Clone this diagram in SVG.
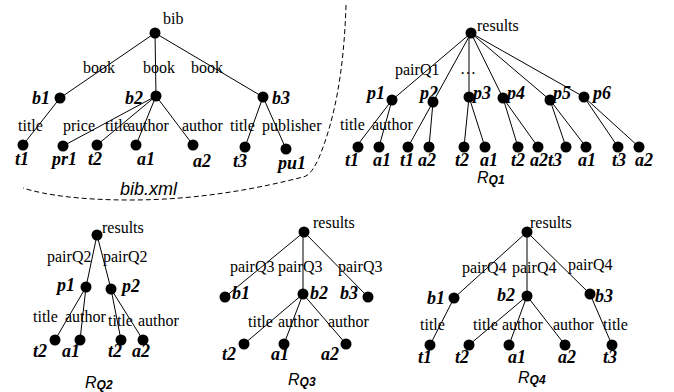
<svg xmlns="http://www.w3.org/2000/svg" width="674" height="392" viewBox="0 0 674 392">
<style>
.e{stroke:#000;stroke-width:1;fill:none}
.d{fill:#000}
.l{font-family:"Liberation Serif","Times New Roman",serif;font-size:16px;fill:#000}
.n{font-family:"Liberation Serif","Times New Roman",serif;font-size:18px;font-weight:bold;font-style:italic;fill:#000}
.c{font-family:"Liberation Sans",Arial,sans-serif;font-style:italic;fill:#000}
.s{font-size:12px;font-weight:bold}
.dash{stroke:#000;stroke-width:1;fill:none;stroke-dasharray:5,3}
</style>
<rect width="674" height="392" fill="#fff"/>
<g id="connectors">
<!-- bib tree -->
<line class="e" x1="155" y1="33" x2="60" y2="98"/>
<line class="e" x1="155" y1="33" x2="156" y2="96"/>
<line class="e" x1="155" y1="33" x2="263" y2="97"/>
<line class="e" x1="60" y1="98" x2="23" y2="145"/>
<line class="e" x1="156" y1="96" x2="63" y2="146"/>
<line class="e" x1="156" y1="96" x2="97" y2="145"/>
<line class="e" x1="156" y1="96" x2="136" y2="145"/>
<line class="e" x1="156" y1="96" x2="193" y2="145"/>
<line class="e" x1="263" y1="97" x2="245" y2="147"/>
<line class="e" x1="263" y1="97" x2="286" y2="149"/>
<!-- RQ1 -->
<line class="e" x1="471" y1="33" x2="392" y2="100"/>
<line class="e" x1="471" y1="33" x2="433" y2="102"/>
<line class="e" x1="469" y1="33" x2="469" y2="97"/>
<line class="e" x1="471" y1="33" x2="503" y2="98"/>
<line class="e" x1="471" y1="33" x2="550" y2="100"/>
<line class="e" x1="471" y1="33" x2="584" y2="97"/>
<line class="e" x1="392" y1="100" x2="356" y2="147"/>
<line class="e" x1="392" y1="100" x2="379" y2="147"/>
<line class="e" x1="433" y1="102" x2="408" y2="147"/>
<line class="e" x1="433" y1="102" x2="429" y2="147"/>
<line class="e" x1="469" y1="97" x2="464" y2="147"/>
<line class="e" x1="469" y1="97" x2="485" y2="147"/>
<line class="e" x1="503" y1="98" x2="518" y2="147"/>
<line class="e" x1="503" y1="98" x2="538" y2="147"/>
<line class="e" x1="550" y1="100" x2="566" y2="147"/>
<line class="e" x1="550" y1="100" x2="586" y2="147"/>
<line class="e" x1="584" y1="97" x2="618" y2="147"/>
<line class="e" x1="584" y1="97" x2="639" y2="147"/>
<!-- RQ2 -->
<line class="e" x1="97" y1="235" x2="86" y2="287"/>
<line class="e" x1="97" y1="235" x2="111" y2="289"/>
<line class="e" x1="86" y1="287" x2="55" y2="340"/>
<line class="e" x1="86" y1="287" x2="80" y2="340"/>
<line class="e" x1="111" y1="289" x2="121" y2="340"/>
<line class="e" x1="111" y1="289" x2="143" y2="340"/>
<!-- RQ3 -->
<line class="e" x1="304" y1="232" x2="225" y2="297"/>
<line class="e" x1="303" y1="232" x2="303" y2="294"/>
<line class="e" x1="304" y1="232" x2="368" y2="297"/>
<line class="e" x1="303" y1="294" x2="244" y2="344"/>
<line class="e" x1="303" y1="294" x2="284" y2="344"/>
<line class="e" x1="303" y1="294" x2="346" y2="344"/>
<!-- RQ4 -->
<line class="e" x1="527" y1="232" x2="454" y2="298"/>
<line class="e" x1="527" y1="232" x2="527" y2="296"/>
<line class="e" x1="527" y1="232" x2="590" y2="294"/>
<line class="e" x1="454" y1="298" x2="430" y2="345"/>
<line class="e" x1="527" y1="296" x2="469" y2="345"/>
<line class="e" x1="527" y1="296" x2="509" y2="345"/>
<line class="e" x1="527" y1="296" x2="565" y2="345"/>
<line class="e" x1="590" y1="294" x2="612" y2="345"/>
</g>
<path class="dash" d="M346 5 C344 70 335 120 318 160 C312 172 308 176 303 177 C260 188 200 200 130 200 C80 200 45 195 23 188"/>
<g id="bibtree">
<g id="bib"><circle class="d" cx="155" cy="33" r="5.5"/><text class="l" x="163" y="24">bib</text></g>
<text class="l" x="83" y="73">book</text>
<text class="l" x="143" y="73">book</text>
<text class="l" x="191" y="73">book</text>
<g id="b1"><circle class="d" cx="60" cy="98" r="5.5"/><text class="n" x="32" y="104">b1</text></g>
<g id="b2"><circle class="d" cx="156" cy="96" r="5.5"/><text class="n" x="125" y="104">b2</text></g>
<g id="b3"><circle class="d" cx="263" cy="97" r="5.5"/><text class="n" x="272" y="104">b3</text></g>
<text class="l" x="18" y="131">title</text>
<text class="l" x="63" y="131">price</text>
<text class="l" x="105" y="131">title</text>
<text class="l" x="128" y="131">author</text>
<text class="l" x="182" y="131">author</text>
<text class="l" x="230" y="131">title</text>
<text class="l" x="262" y="131">publisher</text>
<g id="t1"><circle class="d" cx="23" cy="145" r="5.5"/><text class="n" x="15" y="165">t1</text></g>
<g id="pr1"><circle class="d" cx="63" cy="146" r="5.5"/><text class="n" x="52" y="165">pr1</text></g>
<g id="t2"><circle class="d" cx="97" cy="145" r="5.5"/><text class="n" x="88" y="165">t2</text></g>
<g id="a1"><circle class="d" cx="136" cy="145" r="5.5"/><text class="n" x="137" y="165">a1</text></g>
<g id="a2"><circle class="d" cx="193" cy="145" r="5.5"/><text class="n" x="193" y="167">a2</text></g>
<g id="t3"><circle class="d" cx="245" cy="147" r="5.5"/><text class="n" x="233" y="167">t3</text></g>
<g id="pu1"><circle class="d" cx="286" cy="149" r="5.5"/><text class="n" x="278" y="169">pu1</text></g>
<text class="c" x="120" y="195" font-size="18">bib.xml</text>
</g>
<g id="rq1">
<g id="q1results"><circle class="d" cx="471" cy="33" r="5.5"/><text class="l" x="477" y="31">results</text></g>
<text class="l" x="395" y="75">pairQ1</text>
<text class="l" x="460" y="74">…</text>
<g id="q1p1"><circle class="d" cx="392" cy="100" r="5.5"/><text class="n" x="367" y="99">p1</text></g>
<g id="q1p2"><circle class="d" cx="433" cy="102" r="5.5"/><text class="n" x="420" y="99">p2</text></g>
<g id="q1p3"><circle class="d" cx="469" cy="97" r="5.5"/><text class="n" x="473" y="99">p3</text></g>
<g id="q1p4"><circle class="d" cx="503" cy="98" r="5.5"/><text class="n" x="507" y="99">p4</text></g>
<g id="q1p5"><circle class="d" cx="550" cy="100" r="5.5"/><text class="n" x="553" y="99">p5</text></g>
<g id="q1p6"><circle class="d" cx="584" cy="97" r="5.5"/><text class="n" x="593" y="99">p6</text></g>
<text class="l" x="340" y="130">title</text>
<text class="l" x="372" y="130">author</text>
<g id="q1l1"><circle class="d" cx="358" cy="147" r="5.5"/><text class="n" x="345" y="166">t1</text></g>
<g id="q1l2"><circle class="d" cx="379" cy="147" r="5.5"/><text class="n" x="373" y="166">a1</text></g>
<g id="q1l3"><circle class="d" cx="408" cy="147" r="5.5"/><text class="n" x="400" y="166">t1</text></g>
<g id="q1l4"><circle class="d" cx="429" cy="147" r="5.5"/><text class="n" x="418" y="166">a2</text></g>
<g id="q1l5"><circle class="d" cx="464" cy="147" r="5.5"/><text class="n" x="455" y="166">t2</text></g>
<g id="q1l6"><circle class="d" cx="485" cy="147" r="5.5"/><text class="n" x="480" y="166">a1</text></g>
<g id="q1l7"><circle class="d" cx="518" cy="147" r="5.5"/><text class="n" x="511" y="166">t2</text></g>
<g id="q1l8"><circle class="d" cx="538" cy="147" r="5.5"/><text class="n" x="530" y="166">a2</text></g>
<g id="q1l9"><circle class="d" cx="566" cy="147" r="5.5"/><text class="n" x="548" y="166">t3</text></g>
<g id="q1l10"><circle class="d" cx="586" cy="147" r="5.5"/><text class="n" x="578" y="166">a1</text></g>
<g id="q1l11"><circle class="d" cx="618" cy="147" r="5.5"/><text class="n" x="612" y="166">t3</text></g>
<g id="q1l12"><circle class="d" cx="639" cy="147" r="5.5"/><text class="n" x="635" y="166">a2</text></g>
<text class="c" x="477" y="183" font-size="16">R<tspan class="s" dy="1">Q1</tspan></text>
</g>
<g id="rq2">
<g id="q2results"><circle class="d" cx="97" cy="235" r="5.5"/><text class="l" x="102" y="233">results</text></g>
<text class="l" x="47" y="262">pairQ2</text>
<text class="l" x="103" y="262">pairQ2</text>
<g id="q2p1"><circle class="d" cx="86" cy="287" r="5.5"/><text class="n" x="57" y="291">p1</text></g>
<g id="q2p2"><circle class="d" cx="111" cy="289" r="5.5"/><text class="n" x="122" y="292">p2</text></g>
<text class="l" x="33" y="322">title</text>
<text class="l" x="65" y="322">author</text>
<text class="l" x="108" y="326">title</text>
<text class="l" x="138" y="326">author</text>
<g id="q2l1"><circle class="d" cx="55" cy="340" r="5.5"/><text class="n" x="33" y="357">t2</text></g>
<g id="q2l2"><circle class="d" cx="80" cy="340" r="5.5"/><text class="n" x="62" y="357">a1</text></g>
<g id="q2l3"><circle class="d" cx="121" cy="340" r="5.5"/><text class="n" x="108" y="357">t2</text></g>
<g id="q2l4"><circle class="d" cx="143" cy="340" r="5.5"/><text class="n" x="132" y="357">a2</text></g>
<text class="c" x="85" y="388" font-size="16">R<tspan class="s" dy="1">Q2</tspan></text>
</g>
<g id="rq3">
<g id="q3results"><circle class="d" cx="304" cy="232" r="5.5"/><text class="l" x="313" y="228">results</text></g>
<text class="l" x="230" y="272">pairQ3</text>
<text class="l" x="278" y="272">pairQ3</text>
<text class="l" x="338" y="272">pairQ3</text>
<g id="q3b1"><circle class="d" cx="225" cy="297" r="5.5"/><text class="n" x="232" y="299">b1</text></g>
<g id="q3b2"><circle class="d" cx="303" cy="294" r="5.5"/><text class="n" x="310" y="299">b2</text></g>
<g id="q3b3"><circle class="d" cx="368" cy="297" r="5.5"/><text class="n" x="340" y="299">b3</text></g>
<text class="l" x="248" y="327">title</text>
<text class="l" x="278" y="327">author</text>
<text class="l" x="328" y="327">author</text>
<g id="q3l1"><circle class="d" cx="244" cy="344" r="5.5"/><text class="n" x="222" y="360">t2</text></g>
<g id="q3l2"><circle class="d" cx="284" cy="344" r="5.5"/><text class="n" x="271" y="360">a1</text></g>
<g id="q3l3"><circle class="d" cx="346" cy="344" r="5.5"/><text class="n" x="321" y="360">a2</text></g>
<text class="c" x="288" y="385" font-size="16">R<tspan class="s" dy="1">Q3</tspan></text>
</g>
<g id="rq4">
<g id="q4results"><circle class="d" cx="527" cy="232" r="5.5"/><text class="l" x="530" y="228">results</text></g>
<text class="l" x="462" y="273">pairQ4</text>
<text class="l" x="512" y="273">pairQ4</text>
<text class="l" x="568" y="270">pairQ4</text>
<g id="q4b1"><circle class="d" cx="454" cy="298" r="5.5"/><text class="n" x="427" y="304">b1</text></g>
<g id="q4b2"><circle class="d" cx="527" cy="296" r="5.5"/><text class="n" x="497" y="301">b2</text></g>
<g id="q4b3"><circle class="d" cx="590" cy="294" r="5.5"/><text class="n" x="595" y="302">b3</text></g>
<text class="l" x="420" y="330">title</text>
<text class="l" x="473" y="330">title</text>
<text class="l" x="502" y="330">author</text>
<text class="l" x="553" y="330">author</text>
<text class="l" x="603" y="330">title</text>
<g id="q4l1"><circle class="d" cx="430" cy="345" r="5.5"/><text class="n" x="418" y="363">t1</text></g>
<g id="q4l2"><circle class="d" cx="469" cy="345" r="5.5"/><text class="n" x="455" y="363">t2</text></g>
<g id="q4l3"><circle class="d" cx="509" cy="345" r="5.5"/><text class="n" x="508" y="363">a1</text></g>
<g id="q4l4"><circle class="d" cx="565" cy="345" r="5.5"/><text class="n" x="558" y="363">a2</text></g>
<g id="q4l5"><circle class="d" cx="612" cy="345" r="5.5"/><text class="n" x="603" y="363">t3</text></g>
<text class="c" x="518" y="383" font-size="16">R<tspan class="s" dy="1">Q4</tspan></text>
</g>
</svg>
